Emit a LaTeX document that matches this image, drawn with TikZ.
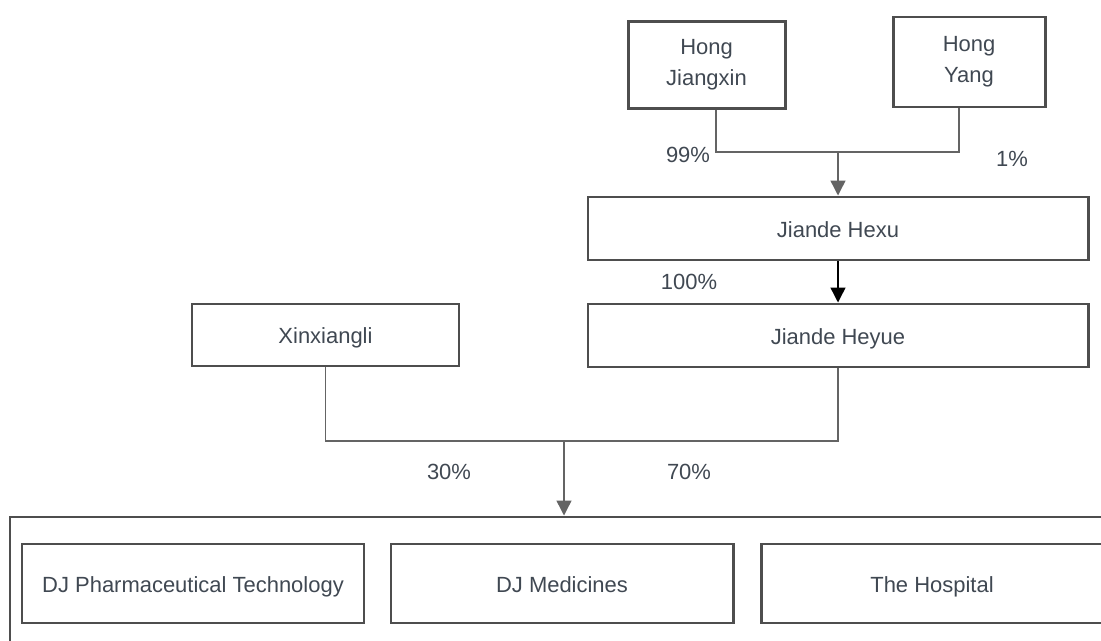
\documentclass[tikz,border=0pt]{standalone}
\usepackage{fontspec}
\setmainfont{Liberation Sans}
\usepackage{tikz}
\usetikzlibrary{arrows.meta,calc}
\definecolor{testo}{RGB}{64,72,82}
\definecolor{bordo}{RGB}{78,78,78}
\definecolor{linea}{RGB}{100,100,100}
\tikzset{
>={Triangle[length=8.5pt,width=8.5pt]},
box node/.style={draw=bordo,line width=1.7pt,inner sep=0pt,align=center,text=testo},
riga/.style={text height=11pt,text depth=1pt},
perc/.style={text=testo},
collega/.style={draw=linea,line width=0.8pt},
freccia/.style={->,draw=linea,fill=linea,line width=0.8pt}}

\begin{document}
\begin{tikzpicture}[font=\fontsize{12.5}{17.5}\selectfont]

\clip (0,0) rectangle (22.02,-12.82);

\node[box node,minimum width=3.14cm,minimum height=1.74cm] (1) at (14.13,-1.30) {Hong\\Jiangxin};
\node[box node,minimum width=3.04cm,minimum height=1.80cm] (2) at (19.38,-1.24) {Hong\\Yang};
\node[box node,riga,minimum width=10cm,minimum height=1.26cm] (3) at (16.76,-4.57) {Jiande Hexu};
\node[box node,riga,minimum width=10cm,minimum height=1.26cm] (4) at (16.76,-6.71) {Jiande Heyue};
\node[box node,riga,minimum width=5.34cm,minimum height=1.24cm] (5) at (6.51,-6.70) {Xinxiangli};
\node[box node,minimum width=22.3cm,minimum height=2.96cm] (6) at (11.35,-11.82) {};
\node[box node,riga,minimum width=6.84cm,minimum height=1.58cm] (7) at (3.86,-11.67) {DJ Pharmaceutical Technology};
\node[box node,riga,minimum width=6.84cm,minimum height=1.58cm] (8) at (11.24,-11.67) {DJ Medicines};
\node[box node,riga,minimum width=6.84cm,minimum height=1.58cm] (9) at (18.64,-11.67) {The Hospital};

\coordinate (j1) at (16.76,-3.04);
\coordinate (j2) at (11.28,-8.82);

\node[perc] (p1) at (13.76,-3.10) {99\%};
\node[perc] (p2) at (20.24,-3.18) {1\%};
\node[perc] (p3) at (13.78,-5.64) {100\%};
\node[perc] (p4) at (8.98,-9.44) {30\%};
\node[perc] (p5) at (13.78,-9.44) {70\%};

\draw[collega] ([xshift=1.9mm]1.south) |- (j1) -| ([xshift=-2mm]2.south);
\draw[freccia] (j1) -- (3.north);
\draw[freccia,draw=black,fill=black] (3.south) -- (4.north);
\draw[collega] (5.south) |- (j2) -| (4.south);
\draw[freccia] (j2) -- (6.north -| j2);

\end{tikzpicture}
\end{document}
